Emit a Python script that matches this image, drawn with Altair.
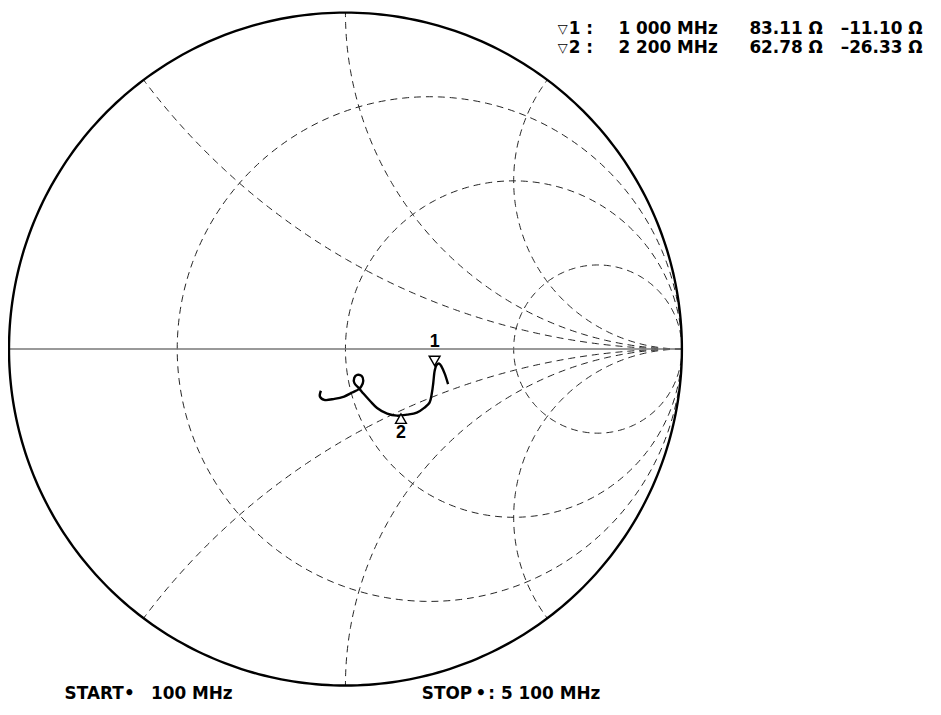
import numpy as np
import pandas as pd
import altair as alt

# ---------------- data ----------------
# Smith chart grid values
r_circles = [1/3, 1.0, 3.0]
x_arcs = [0.5, 1.0, 2.0, -0.5, -1.0, -2.0]

# Measured trace, reflection coefficient (real, imag), 100 MHz -> 5100 MHz
trace_re = [0.305, 0.295, 0.286, 0.279, 0.271, 0.266, 0.264, 0.261, 0.257, 0.250,
            0.235, 0.212, 0.183, 0.153, 0.124, 0.094, 0.074, 0.054, 0.040,
            0.027, 0.026, 0.035, 0.048, 0.053, 0.047, 0.040, 0.020, -0.004,
            -0.033, -0.063, -0.076, -0.073]
trace_im = [-0.104, -0.073, -0.053, -0.043, -0.047, -0.061, -0.072, -0.101, -0.130, -0.159,
            -0.174, -0.189, -0.195, -0.198, -0.192, -0.175, -0.155, -0.133, -0.116,
            -0.102, -0.086, -0.077, -0.080, -0.094, -0.111, -0.119, -0.129, -0.141,
            -0.148, -0.151, -0.141, -0.124]

# Markers
marker_ids = ["1", "2"]
marker_freqs = ["1 000 MHz", "2 200 MHz"]
marker_res = ["83.11 Ω", "62.78 Ω"]
marker_react = ["–11.10 Ω", "–26.33 Ω"]
marker_re = [0.265, 0.165]
marker_im = [-0.047, -0.195]

foot_texts = ["START", "•", "100 MHz", "STOP", "•", ": 5 100 MHz"]

# ---------------- layout ----------------
W, H = 932, 700
CX, CY, R = 348.0, 349.0, 339.0   # page pixels of chart centre and radius
FONT = "DejaVu Sans"


def gx(px):
    return (px - CX) / R


def gy(py):
    return (CY - py) / R


X0, X1 = gx(8), gx(8 + W)
Y1, Y0 = gy(8), gy(8 + H)
xs = alt.Scale(domain=[X0, X1], nice=False, zero=False)
ys = alt.Scale(domain=[Y0, Y1], nice=False, zero=False)
X = lambda f="x": alt.X(f"{f}:Q", scale=xs, axis=None)
Y = lambda f="y": alt.Y(f"{f}:Q", scale=ys, axis=None)

# grid geometry
rows = []
t = np.linspace(0, 2 * np.pi, 361)
for r in r_circles:
    c, rad = r / (1 + r), 1 / (1 + r)
    for i, a in enumerate(t):
        rows.append(dict(g=f"r{r}", i=i, x=c + rad * np.cos(a), y=rad * np.sin(a)))
for xv in x_arcs:
    ax = abs(xv)
    px_ = (ax**2 - 1) / (ax**2 + 1) - 1
    py_ = 2 * ax / (ax**2 + 1) - 1 / ax
    end = np.arctan2(py_, px_)
    if end > -np.pi / 2:
        end -= 2 * np.pi
    angs = np.linspace(-np.pi / 2, end, 200)
    for i, a in enumerate(angs):
        yy = 1 / ax + np.sin(a) / ax
        rows.append(dict(g=f"x{xv}", i=i, x=1 + np.cos(a) / ax, y=yy if xv > 0 else -yy))
grid = pd.DataFrame(rows)

outer = pd.DataFrame(dict(i=range(361), x=np.cos(t), y=np.sin(t)))

grid_layer = alt.Chart(grid).mark_line(
    color="#222", strokeWidth=1, strokeDash=[7, 5]
).encode(x=X(), y=Y(), detail="g:N", order="i:Q")

outer_layer = alt.Chart(outer).mark_line(color="black", strokeWidth=2.4).encode(
    x=X(), y=Y(), order="i:Q")

hline = alt.Chart(pd.DataFrame(dict(x=[-1.0], x2=[1.0], y=[0.0]))).mark_rule(
    color="#777", strokeWidth=1.5
).encode(x=X(), x2="x2:Q", y=Y())

trace = pd.DataFrame(dict(i=range(len(trace_re)), x=trace_re, y=trace_im))
trace_layer = alt.Chart(trace).mark_line(
    color="black", strokeWidth=2.4, interpolate="catmull-rom"
).encode(x=X(), y=Y(), order="i:Q")

mk = pd.DataFrame(dict(id=marker_ids, x=marker_re, y=marker_im,
                       shape=["triangle-down", "triangle-up"],
                       dy=[gy(361) - gy(365), gy(419) - gy(415)],
                       ldy=[gy(342) - gy(365), gy(433) - gy(415)]))
mk["ty"] = mk["y"] + mk["dy"]
mk["ly"] = mk["y"] + mk["ldy"]
mk_layer = alt.Chart(mk).mark_point(
    filled=True, fill="white", stroke="black", strokeWidth=1.4, size=120, opacity=1
).encode(x=X(), y=Y("ty"),
         shape=alt.Shape("shape:N", scale=None, legend=None))
mk_text = alt.Chart(mk).mark_text(
    font="Liberation Sans", fontSize=18, fontWeight="bold", color="black", baseline="middle"
).encode(x=X(), y=Y("ly"), text="id:N")

# marker readout table
tab_rows = []
col_px = [562, 573, 623, 755, 847]
col_fw = ["normal", "bold", "bold", "bold", "bold"]
row_py = [27, 46]
for k in range(len(marker_ids)):
    vals = ["▽", f"{marker_ids[k]} :", marker_freqs[k], marker_res[k], marker_react[k]]
    for c, v in enumerate(vals):
        tab_rows.append(dict(x=gx(col_px[c]), y=gy(row_py[k]), t=v, fw=col_fw[c]))
tab = pd.DataFrame(tab_rows)
tab_norm = alt.Chart(tab[tab.fw == "normal"]).mark_text(
    font=FONT, fontSize=13, align="left", baseline="middle", color="black"
).encode(x=X(), y=Y(), text="t:N")
tab_bold = alt.Chart(tab[tab.fw == "bold"]).mark_text(
    font=FONT, fontSize=17, fontWeight="bold", align="left", baseline="middle", color="black"
).encode(x=X(), y=Y(), text="t:N")

foot = pd.DataFrame(dict(
    x=[gx(p) for p in [65, 125, 152, 425, 479, 492]],
    y=[gy(697)] * 6,
    t=foot_texts))
foot_layer = alt.Chart(foot).mark_text(
    font=FONT, fontSize=17, fontWeight="bold", align="left", baseline="middle", color="black"
).encode(x=X(), y=Y(), text="t:N")

chart = alt.layer(
    grid_layer, hline, outer_layer, trace_layer, mk_layer, mk_text, tab_norm, tab_bold, foot_layer
).properties(
    width=W, height=H, padding=0, autosize=alt.AutoSizeParams(type="none")
).configure(background="white", view=alt.ViewConfig(stroke=None))

chart.save("out.html", embed_options={"renderer": "svg", "actions": False})
